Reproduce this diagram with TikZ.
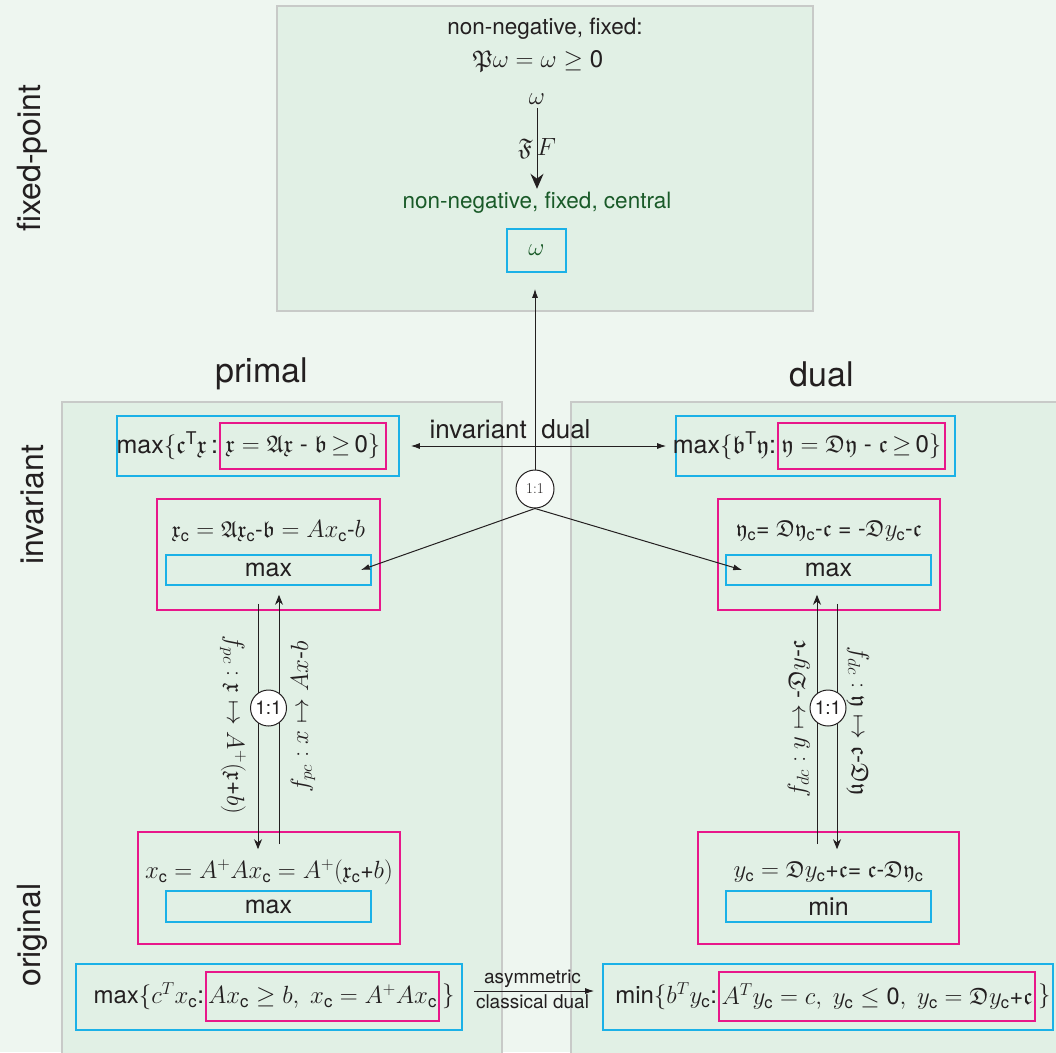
\documentclass[tikz,border=0pt]{standalone}
\usepackage{amsmath}
\usepackage{amsfonts}
\usepackage{amssymb}
\usepackage{fontspec}
\setmainfont{TeX Gyre Heros}
\usepackage{xcolor}
\usepackage{tikz}
\usetikzlibrary{arrows.meta}
\definecolor{bgmint}{RGB}{238,246,240}
\definecolor{panelmint}{RGB}{225,240,229}
\definecolor{panelgray}{RGB}{200,202,200}
\definecolor{boxcyan}{RGB}{27,177,231}
\definecolor{boxmagenta}{RGB}{232,23,138}
\definecolor{textgreen}{RGB}{25,90,40}
\definecolor{textdark}{RGB}{35,31,32}
\newcommand{\fsz}[1]{\fontsize{#1}{#1}\selectfont}
\newcommand{\csub}{\text{c}}

\begin{document}
\begin{tikzpicture}[x=1pt,y=-1pt,
      every node/.style={text=textdark},
      area-panel/.style={draw=panelgray, fill=panelmint, line width=1.5pt},
      box-cyan/.style={draw=boxcyan, line width=1.6pt, inner sep=0pt},
      box-magenta/.style={draw=boxmagenta, line width=1.6pt, inner sep=0pt},
      circle-ratio/.style={circle, draw=textdark, fill=white, line width=1pt, inner sep=0pt},
      label-side/.style={rotate=90, font=\fsz{32}},
      label-head/.style={font=\fsz{34}},
      line-map/.style={draw=textdark, line width=1pt},
      tip-small/.style={-{Latex[length=9pt,width=6pt]}},
      tip-stealth/.style={-{Stealth[length=10pt,width=8pt]}}
    ]
      \useasboundingbox (0,0) rectangle (1056,1052);
      \fill[bgmint] (0,0) rectangle (1056,1052);
      \path[area-panel] (277,6) rectangle (813,311);
      \path[area-panel] (62,402) rectangle (502,1070);
      \path[area-panel] (571,402) rectangle (1070,1070);

      \node[label-side] (side-fixed) at (32,158) {fixed-point};
      \node[label-side] (side-inv) at (32,505) {invariant};
      \node[label-side] (side-orig) at (32,935) {original};
      \node[label-head] (head-primal) at (262,374) {primal};
      \node[label-head] (head-dual) at (822,374) {dual};

      % fixed-point panel
      \node[font=\fsz{22.5}] (fix-head) at (545,29) {non-negative, fixed:};
      \node[font=\fsz{24}] (fix-eq) at (538,61) {$\mathfrak{P}\omega = \omega \geq \text{0}$};
      \node[font=\fsz{24}] (fix-w) at (537,99) {$\omega$};
      \node[font=\fsz{22.5}, text=textgreen] (fix-central) at (537,203) {non-negative, fixed, central};
      \node[box-cyan, minimum width=59pt, minimum height=43pt, text=textgreen, font=\fsz{24}] (fix-box) at (536.5,250.5) {$\omega$};
      \draw[line-map, -{Stealth[length=15pt,width=13pt]}] (fix-w) -- (fix-central)
        node[midway, font=\fsz{24}] (fix-map) {$\mathfrak{F}\,F$};

      % invariant row
      \node[box-cyan, minimum width=282pt, minimum height=60pt] (inv-p) at (258,446) {};
      \node[box-magenta, minimum width=166pt, minimum height=46pt, font=\fsz{24}] (inv-p-set) at (303,446)
        {$\mathfrak{x} = \mathfrak{A}\mathfrak{x}$ - $\mathfrak{b}\,{\geq}\,\text{0}\}$};
      \node[anchor=east, inner sep=1pt, font=\fsz{25}] (inv-p-obj) at (inv-p-set.west) {max$\{\mathfrak{c}^{\text{T}}\mathfrak{x}$\,:};
      \node[box-cyan, minimum width=279pt, minimum height=60pt] (inv-d) at (815.5,446) {};
      \node[box-magenta, minimum width=167pt, minimum height=46pt, font=\fsz{24}] (inv-d-set) at (861.5,446)
        {$\mathfrak{y} = \mathfrak{D}\mathfrak{y}$ - $\mathfrak{c}\,{\geq}\,\text{0}\}$};
      \node[anchor=east, inner sep=1pt, font=\fsz{25}] (inv-d-obj) at (inv-d-set.west) {max$\{\mathfrak{b}^{\text{T}}\mathfrak{y}$:};

      \node[box-magenta, minimum width=223pt, minimum height=111pt] (mp1) at (268.5,554.5) {};
      \node[font=\fsz{23}] (mp1-eq) at (268.5,531)
        {$\mathfrak{x}_\csub = \mathfrak{A}\mathfrak{x}_\csub$-$\mathfrak{b} = Ax_\csub$-$b$};
      \node[box-cyan, minimum width=205pt, minimum height=30pt, font=\fsz{25}] (maxp1) at (268.5,570) {max};
      \node[box-magenta, minimum width=222pt, minimum height=111pt] (md1) at (829,554.5) {};
      \node[font=\fsz{23}] (md1-eq) at (829,531)
        {$\mathfrak{y}_\csub$= $\mathfrak{D}\mathfrak{y}_\csub$-$\mathfrak{c}$ = -$\mathfrak{D}y_\csub$-$\mathfrak{c}$};
      \node[box-cyan, minimum width=205pt, minimum height=30pt, font=\fsz{25}] (maxd1) at (828.5,570) {max};

      % original row
      \node[box-magenta, minimum width=262pt, minimum height=112pt] (mp2) at (269,888) {};
      \node[font=\fsz{23}] (mp2-eq) at (269,872)
        {$x_\csub = A^{+}Ax_\csub = A^{+}(\mathfrak{x}_\csub$+$b)$};
      \node[box-cyan, minimum width=205pt, minimum height=31pt, font=\fsz{25}] (maxp2) at (268.5,906.5) {max};
      \node[box-magenta, minimum width=261pt, minimum height=112pt] (md2) at (828.5,888) {};
      \node[font=\fsz{23}] (md2-eq) at (828.5,872)
        {$y_\csub = \mathfrak{D}y_\csub$+$\mathfrak{c}$= $\mathfrak{c}$-$\mathfrak{D}\mathfrak{y}_\csub$};
      \node[box-cyan, minimum width=205pt, minimum height=31pt, font=\fsz{25}] (mind2) at (828.5,906.5) {min};

      \node[box-cyan, minimum width=386pt, minimum height=66pt] (orig-p) at (269,997) {};
      \node[box-magenta, minimum width=233pt, minimum height=49pt, font=\fsz{24}] (orig-p-set) at (322.5,996.5)
        {$Ax_\csub \geq b,\ x_\csub = A^{+}Ax_\csub$};
      \node[anchor=east, inner sep=1pt, font=\fsz{24}] (orig-p-obj) at (orig-p-set.west) {max$\{c^Tx_\csub$:};
      \node[anchor=west, inner sep=2pt, font=\fsz{24}] (orig-p-end) at (orig-p-set.east) {$\}$};
      \node[box-cyan, minimum width=450pt, minimum height=66pt] (orig-d) at (828,997) {};
      \node[box-magenta, minimum width=316pt, minimum height=49pt, font=\fsz{23.5}] (orig-d-set) at (877,996.5)
        {$A^Ty_\csub = c,\ y_\csub \leq \text{0},\ y_\csub = \mathfrak{D}y_\csub\text{+}\mathfrak{c}$};
      \node[anchor=east, inner sep=1pt, font=\fsz{24}] (orig-d-obj) at (orig-d-set.west) {min$\{b^Ty_\csub$:};
      \node[anchor=west, inner sep=2pt, font=\fsz{24}] (orig-d-end) at (orig-d-set.east) {$\}$};

      % connectors
      \node[circle-ratio, minimum size=38pt, font=\fontfamily{lmr}\fsz{15}] (c0) at (535,489) {1:1};
      \draw[line-map, tip-small, shorten >=16pt] (c0.north) -- (c0.north |- fix-box.south);
      \draw[line-map, {Latex[length=9pt,width=6pt]}-{Latex[length=9pt,width=6pt]}, shorten <=11pt, shorten >=9pt]
        (inv-p.east) -- (inv-d.west);
      \node[font=\fsz{26}] (inv-dual) at (510,429) {invariant\ \ dual};
      \draw[line-map, tip-small] (c0.south) -- ([xshift=-11pt]maxp1.east);
      \draw[line-map, tip-small] (c0.south) -- ([xshift=17pt]maxd1.west);

      \draw[line-map, tip-stealth] ([xshift=-10.5pt,yshift=7pt]mp1.south) -- ([xshift=-11pt,yshift=-18pt]mp2.north);
      \draw[line-map, tip-stealth] ([xshift=10pt,yshift=-13pt]mp2.north) -- ([xshift=10.5pt,yshift=16pt]mp1.south);
      \node[circle-ratio, minimum size=36pt, font=\fsz{19}] (p-ratio) at (268.5,708) {1:1};
      \node[rotate=-90, font=\fsz{24}] (p-down) at (233,725) {$f_{pc} : \mathfrak{x} \mapsto A^{+}(\mathfrak{x}$+$b)$};
      \node[rotate=90, font=\fsz{24}] (p-up) at (303,717) {$f_{pc} : x \mapsto Ax$-$b$};

      \draw[line-map, tip-stealth] ([xshift=-11.5pt,yshift=-13pt]md2.north) -- ([xshift=-12pt,yshift=16pt]md1.south);
      \draw[line-map, tip-stealth] ([xshift=8pt,yshift=7pt]md1.south) -- ([xshift=8.5pt,yshift=-18pt]md2.north);
      \node[circle-ratio, minimum size=36pt, font=\fsz{19}] (d-ratio) at (828,708) {1:1};
      \node[rotate=90, font=\fsz{24}] (d-up) at (799,719) {$f_{dc} : y \mapsto$ -$\mathfrak{D}y$-$\mathfrak{c}$};
      \node[rotate=-90, font=\fsz{24}] (d-down) at (858,721) {$f_{dc} : \mathfrak{y} \mapsto \mathfrak{c}$-$\mathfrak{D}\mathfrak{y}$};

      \draw[line-map, tip-small, shorten <=11pt, shorten >=8pt] ([yshift=6pt]orig-p.east) -- ([yshift=6pt]orig-d.west)
        node[midway, above, font=\fsz{19}] (asym) {asymmetric}
        node[midway, below, font=\fsz{19}] (classical) {classical dual};
    \end{tikzpicture}
\end{document}
